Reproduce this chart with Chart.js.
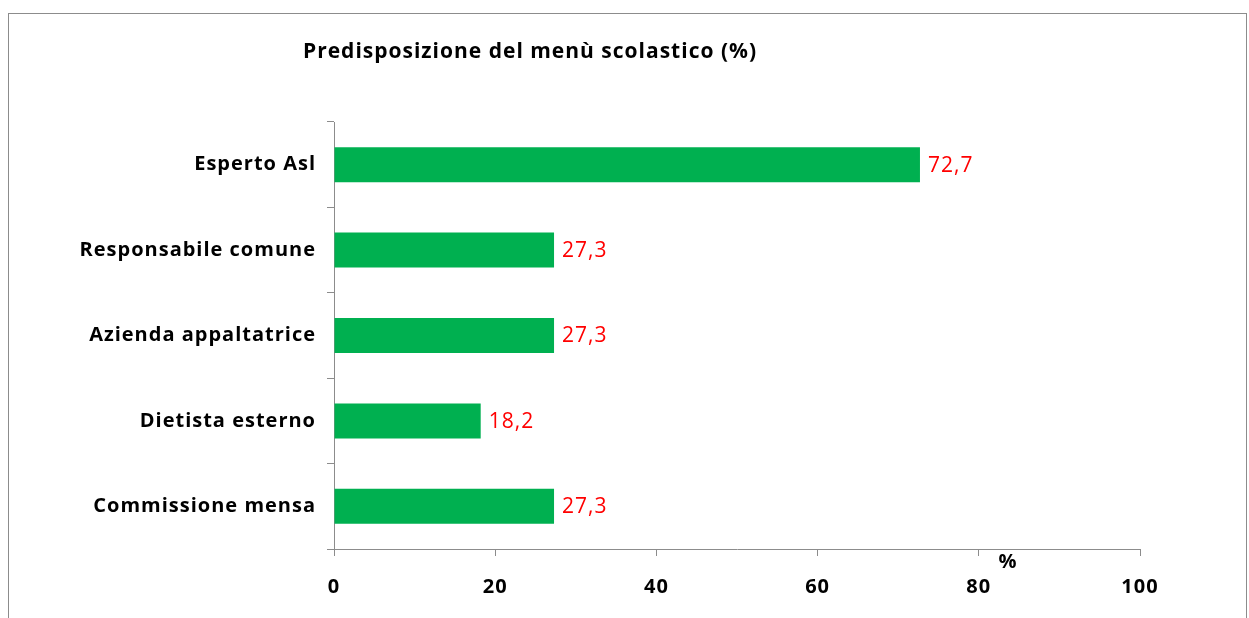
<!DOCTYPE html>
<html><head><meta charset="utf-8">
<script src="https://cdn.jsdelivr.net/npm/chart.js@4/dist/chart.umd.min.js"></script>
<style>html,body{margin:0;padding:0;background:#fff;}#wrap{width:1249px;height:618px;position:relative;}</style>
</head><body><div id="wrap"><canvas id="c" width="1249" height="618"></canvas></div>
<script>
const categories = ["Esperto Asl", "Responsabile comune", "Azienda appaltatrice", "Dietista esterno", "Commissione mensa"];
const values = [72.7, 27.3, 27.3, 18.2, 27.3];
const xTicks = [0, 20, 40, 60, 80, 100];
const titleText = "Predisposizione del menù scolastico (%)";
const axisUnit = "%";

const FONT = "'Open Sans', sans-serif";

const decor = {
  id: 'decor',
  beforeDraw(chart) {
    const ctx = chart.ctx;
    ctx.save();
    ctx.strokeStyle = '#8c8c8c';
    ctx.lineWidth = 1;
    ctx.strokeRect(8.5, 13.5, 1238, 700);
    ctx.restore();
    ctx.letterSpacing = '1px';
  },
  afterDraw(chart) {
    const ctx = chart.ctx;
    ctx.save();
    ctx.letterSpacing = '1px';
    ctx.fillStyle = '#000';
    ctx.font = "bold 21px " + FONT;
    ctx.textAlign = 'center';
    ctx.textBaseline = 'middle';
    ctx.fillText(titleText, 530, 52);
    ctx.font = "bold 20px " + FONT;
    ctx.fillText(axisUnit, 1008, 562);
    ctx.fillStyle = '#ff0000';
    ctx.font = "21px " + FONT;
    ctx.textAlign = 'left';
    const meta = chart.getDatasetMeta(0);
    meta.data.forEach((bar, i) => {
      const txt = values[i].toFixed(1).replace('.', ',');
      ctx.fillText(txt, bar.x + 8, bar.y + 1);
    });
    ctx.restore();
    ctx.letterSpacing = '0px';
  }
};

new Chart(document.getElementById('c'), {
  type: 'bar',
  data: {
    labels: categories,
    datasets: [{
      data: values,
      backgroundColor: '#00b050',
      borderWidth: 0,
      categoryPercentage: 1,
      barPercentage: 0.41
    }]
  },
  options: {
    indexAxis: 'y',
    responsive: false,
    animation: false,
    events: [],
    layout: { padding: { left: 0, right: 109, top: 122, bottom: 0 } },
    plugins: { legend: { display: false }, tooltip: { enabled: false }, title: { display: false } },
    scales: {
      x: {
        min: 0, max: 100,
        afterBuildTicks(scale) { scale.ticks = xTicks.map(v => ({ value: v })); },
        afterFit(scale) { scale.height = 69; },
        grid: { drawOnChartArea: false, tickLength: 7, color: '#8c8c8c', tickColor: '#8c8c8c' },
        border: { color: '#8c8c8c', width: 1 },
        ticks: { color: '#000', font: { family: FONT, size: 20, weight: 'bold' }, padding: 19, maxRotation: 0 }
      },
      y: {
        afterFit(scale) { scale.width = 334; },
        grid: { drawOnChartArea: false, tickLength: 7, color: '#8c8c8c', tickColor: '#8c8c8c', offset: true },
        border: { color: '#8c8c8c', width: 1 },
        ticks: { color: '#000', font: { family: FONT, size: 20, weight: 'bold' }, padding: 11 }
      }
    }
  },
  plugins: [decor]
});
</script>
</body></html>
